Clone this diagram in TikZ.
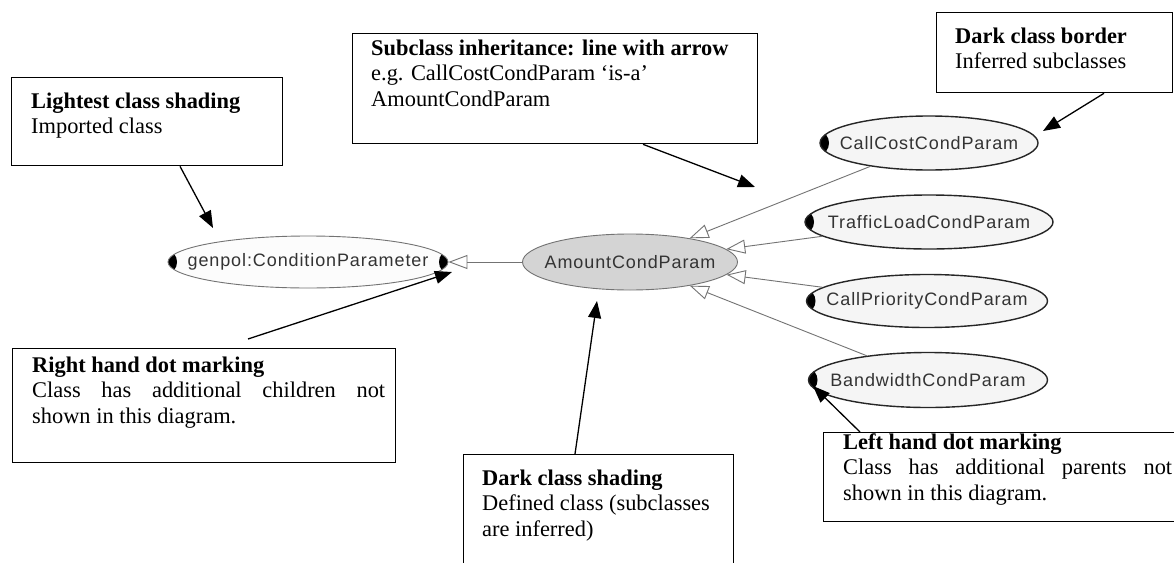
\documentclass[tikz,border=0pt]{standalone}
\usepackage{fontspec}
\setmainfont{Liberation Serif}
\newfontfamily\clsfont{Liberation Sans}[LetterSpace=5]
\usepackage{tikz}
\usetikzlibrary{shapes.geometric}
\usetikzlibrary{arrows.meta}
\definecolor[named]{ClsEdge}{gray}{0.45}
\definecolor[named]{ClsPale}{gray}{0.99}
\definecolor[named]{ClsLight}{gray}{0.96}
\definecolor[named]{ClsDark}{gray}{0.83}
\definecolor[named]{ClsText}{gray}{0.2}
\newcommand{\clsname}[1]{\makebox[0pt]{#1}}
\tikzset{
  cls/.style={ellipse, inner sep=0pt, fill=ClsLight, draw=black!85,
    line width=1.4pt, minimum height=54pt, text=ClsText,
    font=\fontsize{18}{20}\clsfont},
  imported/.style={cls, fill=ClsPale, draw=ClsEdge, line width=0.9pt},
  defined/.style={cls, fill=ClsDark, draw=ClsEdge, line width=0.9pt},
  % black end markings
  ldot/.style={path picture={
    \fill[black] (path picture bounding box.west) ellipse [x radius=9pt, y radius=11pt];}},
  lrdot/.style={path picture={
    \fill[black] (path picture bounding box.west) ellipse [x radius=9pt, y radius=11pt];
    \fill[black] (path picture bounding box.east) ellipse [x radius=9pt, y radius=11pt];}},
  isa/.style={draw=ClsEdge, line width=0.9pt, -{Triangle[open, length=19pt, width=14pt]}},
  note/.style={draw, line width=1.3pt, inner sep=0pt, anchor=north west},
  notetext/.style={inner sep=0pt, anchor=north west, align=left,
    font=\fontsize{22.4}{25.3}\selectfont},
  callout/.style={line width=1.3pt, -{Triangle[length=17pt, width=13pt]}},
}

\begin{document}
\begin{tikzpicture}[x=1pt, y=-1pt]
  \fill[white] (0,0) rectangle (1174,562);
  \clip (0,0) rectangle (1174,562);

  % classes
  \node[imported, lrdot, minimum width=280pt, minimum height=52pt] (genpol) at (308,262) {\clsname{genpol:ConditionParameter}};
  \node[defined, minimum width=215pt, minimum height=56pt] (amount) at (630,262) {\clsname{AmountCondParam}};
  \node[cls, ldot, minimum width=218pt] (callcost) at (929,143) {\clsname{CallCostCondParam}};
  \node[cls, ldot, minimum width=248pt] (traffic) at (929,222) {\clsname{TrafficLoadCondParam}};
  \node[cls, ldot, minimum width=241pt, minimum height=53pt] (priority) at (927,301) {\clsname{CallPriorityCondParam}};
  \node[cls, ldot, minimum width=239pt, minimum height=55pt] (bandwidth) at (928,380) {\clsname{BandwidthCondParam}};

  % is-a links
  \draw[isa] (amount) -- (genpol);
  \foreach \sub in {callcost,traffic,priority,bandwidth}
    \draw[isa] (\sub) -- (amount);

  % legend boxes
  \node[note, minimum width=271pt, minimum height=88pt] (importednote) at (11,77) {};
  \node[notetext] (importedtxt) at (31,92.7) {\textbf{Lightest class shading}\\Imported class};

  \node[note, minimum width=405pt, minimum height=110pt] (isanote) at (352,33) {};
  \node[notetext] (isatxt) at (371,39.7) {\textbf{Subclass inheritance: line with arrow}\\e.g. CallCostCondParam `is-a'\\AmountCondParam};

  \node[note, minimum width=236pt, minimum height=80pt] (bordernote) at (936,12) {};
  \node[notetext] (bordertxt) at (955,27.7) {\textbf{Dark class border}\\Inferred subclasses};

  \node[note, minimum width=383pt, minimum height=114pt] (childnote) at (12,348) {};
  \node[notetext, text width=353pt, align=justify] (childtxt) at (32,356.7) {\textbf{Right hand dot marking}\\Class has additional children not\linebreak shown in this diagram.};

  \node[note, minimum width=270pt, minimum height=130pt] (definednote) at (463,454) {};
  \node[notetext] (definedtxt) at (482,469.7) {\textbf{Dark class shading}\\Defined class (subclasses\\are inferred)};

  \node[note, minimum width=362pt, minimum height=89pt] (parentnote) at (823,432) {};
  \node[notetext, text width=329pt, align=justify] (parenttxt) at (843,433.7) {\textbf{Left hand dot marking}\\Class has additional parents not\linebreak shown in this diagram.};

  % callout arrows
  \coordinate (importedtip) at (213,228);
  \coordinate (isatip) at (755,187);
  \coordinate (bordertip) at (1043,131);
  \coordinate (childtip) at (452,272);
  \coordinate (definedtip) at (597,301);
  \coordinate (parenttip) at (813,386);
  \draw[callout] ([xshift=169pt]importednote.south west) -- (importedtip);
  \draw[callout] ([xshift=291pt]isanote.south west) -- (isatip);
  \draw[callout] ([xshift=168pt]bordernote.south west) -- (bordertip);
  \draw[callout] ([shift={(236pt,9pt)}]childnote.north west) -- (childtip);
  \draw[callout] ([xshift=112pt]definednote.north west) -- (definedtip);
  \draw[callout] ([xshift=37pt]parentnote.north west) -- (parenttip);
\end{tikzpicture}
\end{document}
